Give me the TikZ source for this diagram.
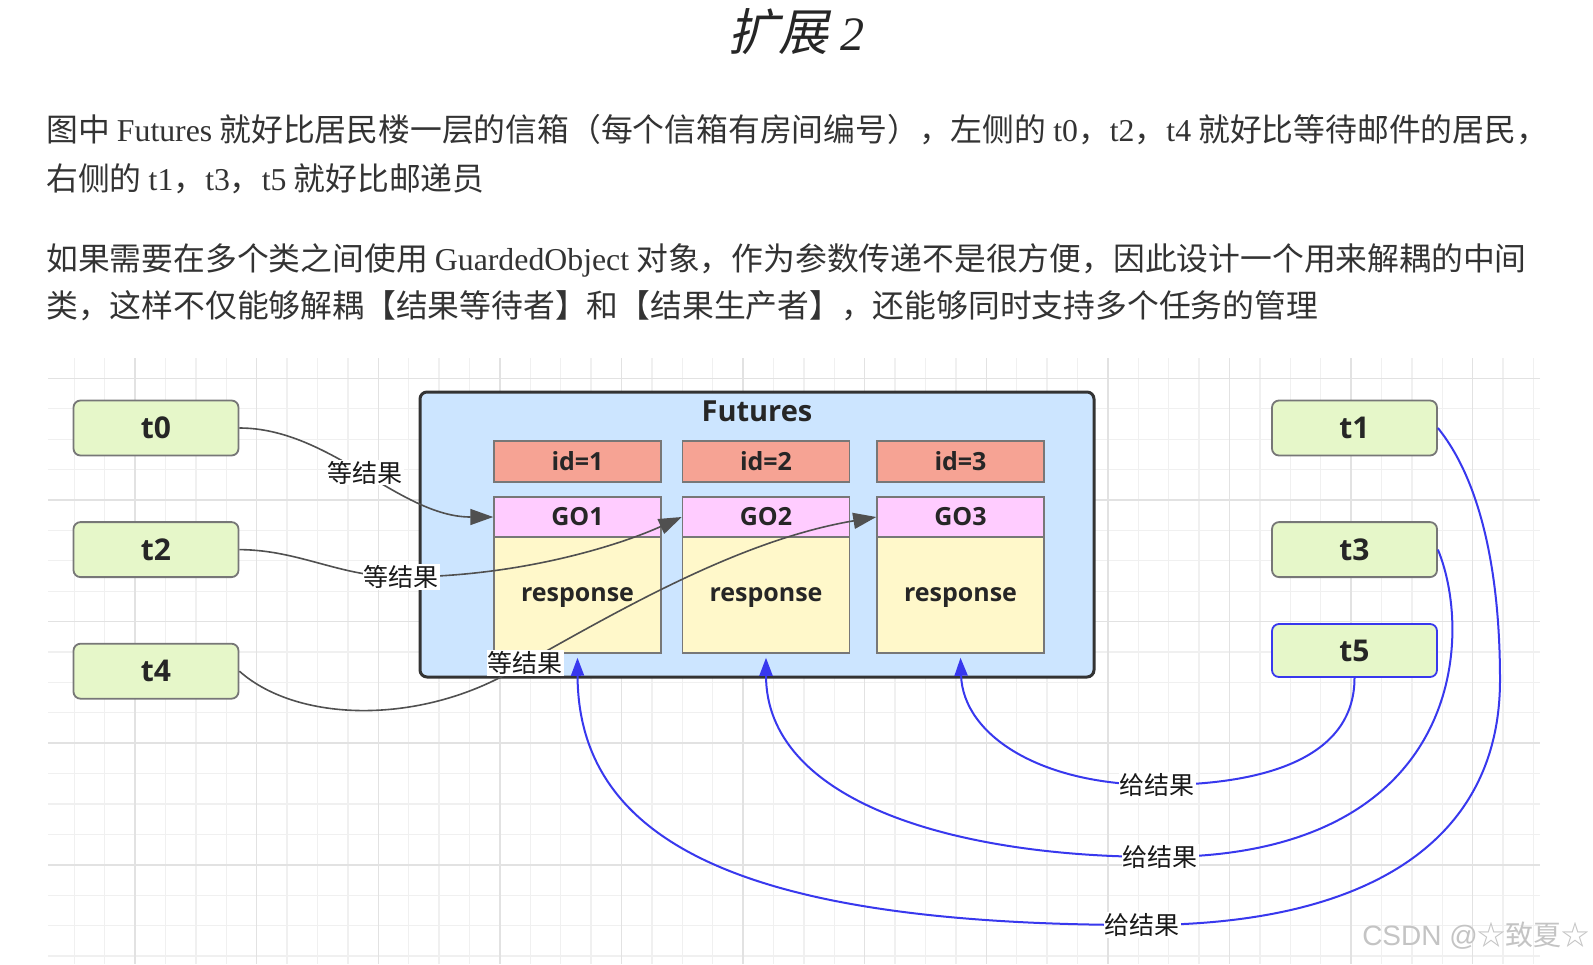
\documentclass[tikz,border=0pt]{standalone}
\usepackage{fontspec}
\usetikzlibrary{arrows.meta}
\newfontfamily\cjk{Noto Sans CJK SC}
\newfontfamily\cjkit[FakeSlant=0.22]{Noto Sans CJK SC}
\newfontfamily\latf{Liberation Serif}
\newfontfamily\uif{Open Sans}
\newfontfamily\wmf{Liberation Sans}
\newcommand\latw[1]{{\latf #1}}
\definecolor{txt}{HTML}{333333}
\definecolor{gmincol}{HTML}{F0F0F0}
\definecolor{gmajcol}{HTML}{E2E2E2}
\definecolor{thr}{HTML}{E6F7C9}
\definecolor{fut}{HTML}{CCE5FF}
\definecolor{idc}{HTML}{F6A394}
\definecolor{goc}{HTML}{FFCCFF}
\definecolor{resc}{HTML}{FFF8CA}
\definecolor{bord}{HTML}{777777}
\definecolor{futbord}{HTML}{333333}
\definecolor{bl}{HTML}{3838EE}
\definecolor{wline}{HTML}{505050}
\definecolor{wmcol}{HTML}{C4C4C4}
\tikzset{
  gmin/.style={draw=gmincol, line width=1.3pt},
  gmaj/.style={draw=gmajcol, line width=1.5pt},
  para/.style={anchor=base west, inner sep=0pt, text=txt, font=\cjk\fontsize{31.8}{32}\selectfont},
  thread/.style={draw=bord, line width=1.8pt, fill=thr, rounded corners=7pt,
    minimum width=165pt, minimum height=55pt, inner sep=0pt, text=black!85,
    font=\uif\bfseries\fontsize{30}{32}\selectfont},
  futbox/.style={draw=futbord, line width=3pt, fill=fut, rounded corners=7pt,
    minimum width=674pt, minimum height=285pt, inner sep=0pt},
  cell/.style={draw=bord, line width=1.5pt, minimum width=167pt, inner sep=0pt,
    text=black!85, font=\uif\bfseries\fontsize{25}{27}\selectfont},
  idbox/.style={cell, fill=idc, minimum height=41pt},
  gobox/.style={cell, fill=goc, minimum height=40pt},
  resbox/.style={cell, fill=resc, minimum height=116pt, text depth=0pt},
  lbl/.style={fill=white, inner sep=1pt, text=black!90, font=\cjk\fontsize{25}{27}\selectfont},
  waitline/.style={draw=wline, line width=1.6pt, -{Triangle[length=23pt,width=16pt]}},
  giveline/.style={draw=bl, line width=2pt, -{Triangle[length=18pt,width=13pt]}}
}
\begin{document}
\begin{tikzpicture}[x=1pt,y=-1pt]
\useasboundingbox (0,0) rectangle (1593,964);
\fill[white] (0,0) rectangle (1593,964);

% title and paragraphs
\node[text=black!85] (title) at (796,32)
  {{\cjkit\fontsize{50}{50}\selectfont 扩展}\kern 12pt{\latf\itshape\fontsize{48}{48}\selectfont 2}};
\node[para] (p1a) at (46,141) {图中 \latw{Futures} 就好比居民楼一层的信箱（每个信箱有房间编号），左侧的 \latw{t0}，\latw{t2}，\latw{t4} 就好比等待邮件的居民，};
\node[para] (p1b) at (46,190) {右侧的 \latw{t1}，\latw{t3}，\latw{t5} 就好比邮递员};
\node[para] (p2a) at (46,270) {如果需要在多个类之间使用 \latw{GuardedObject} 对象，作为参数传递不是很方便，因此设计一个用来解耦的中间};
\node[para] (p2b) at (46,317) {类，这样不仅能够解耦【结果等待者】和【结果生产者】，还能够同时支持多个任务的管理};

% grid
\foreach \k in {2,...,50}{\draw[gmin] ({13.5+30.4*\k},358) -- ({13.5+30.4*\k},964);}
\foreach \j in {0,...,19}{\draw[gmin] (48,{378.4+30.4*\j}) -- (1540,{378.4+30.4*\j});}
\foreach \k in {4,8,...,48}{\draw[gmaj] ({13.5+30.4*\k},358) -- ({13.5+30.4*\k},964);}
\foreach \j in {0,4,...,16}{\draw[gmaj] (48,{378.4+30.4*\j}) -- (1540,{378.4+30.4*\j});}

% threads
\node[thread] (t0) at (156,428) {t0};
\node[thread] (t2) at (156,549.6) {t2};
\node[thread] (t4) at (156,671.2) {t4};
\node[thread] (t1) at (1354.5,428) {t1};
\node[thread] (t3) at (1354.5,549.6) {t3};
\node[thread, draw=bl, minimum height=53pt] (t5) at (1354.5,650.5) {t5};

% Futures container
\node[futbox] (fut) at (757,534.5) {};
\node[text=black!85, font=\uif\bfseries\fontsize{29}{31}\selectfont] (futt) at (757,411) {Futures};

\node[idbox] (id1) at (577.5,461.5) {id=1};
\node[idbox] (id2) at (766,461.5) {id=2};
\node[idbox] (id3) at (960.5,461.5) {id=3};
\node[gobox] (go1) at (577.5,517) {GO1};
\node[gobox] (go2) at (766,517) {GO2};
\node[gobox] (go3) at (960.5,517) {GO3};
\node[resbox] (r1) at (577.5,595) {response};
\node[resbox] (r2) at (766,595) {response};
\node[resbox] (r3) at (960.5,595) {response};

% waiting connectors
\draw[waitline] (t0.east) .. controls (330,428) and (400,517) .. (go1.west) node[lbl,pos=0.5] {等结果};
\draw[waitline] (t2.east) .. controls (300,550) and (340,577) .. (401,577) node[lbl] {等结果}
  .. controls (520,577) and (620,545) .. (go2.west);
\draw[waitline] (t4.east) .. controls (300,725) and (430,725) .. (525,663) node[lbl] {等结果}
  .. controls (620,610) and (740,540) .. (go3.west);

% giving connectors
\draw[giveline] (t5.south) .. controls (1354.5,760) and (1260,785) .. (1157,785) node[lbl] {给结果}
  .. controls (1040,785) and (963,735) .. ([yshift=-4pt]r3.south);
\draw[giveline] (t3.east) .. controls (1475,640) and (1460,857) .. (1160,857) node[lbl] {给结果}
  .. controls (950,857) and (766,800) .. ([yshift=-4pt]r2.south);
\draw[giveline] (t1.east) .. controls (1480,480) and (1500,570) .. (1500,680)
  .. controls (1500,840) and (1370,925) .. (1142,925) node[lbl] {给结果}
  .. controls (760,925) and (578,850) .. ([yshift=-4pt]r1.south);

% watermark
\node[anchor=east, inner sep=0pt, text=wmcol, font=\fontsize{28}{30}\selectfont] (wm) at (1590,936)
  {{\wmf CSDN @}{\cjk ☆致夏☆}};
\end{tikzpicture}
\end{document}
